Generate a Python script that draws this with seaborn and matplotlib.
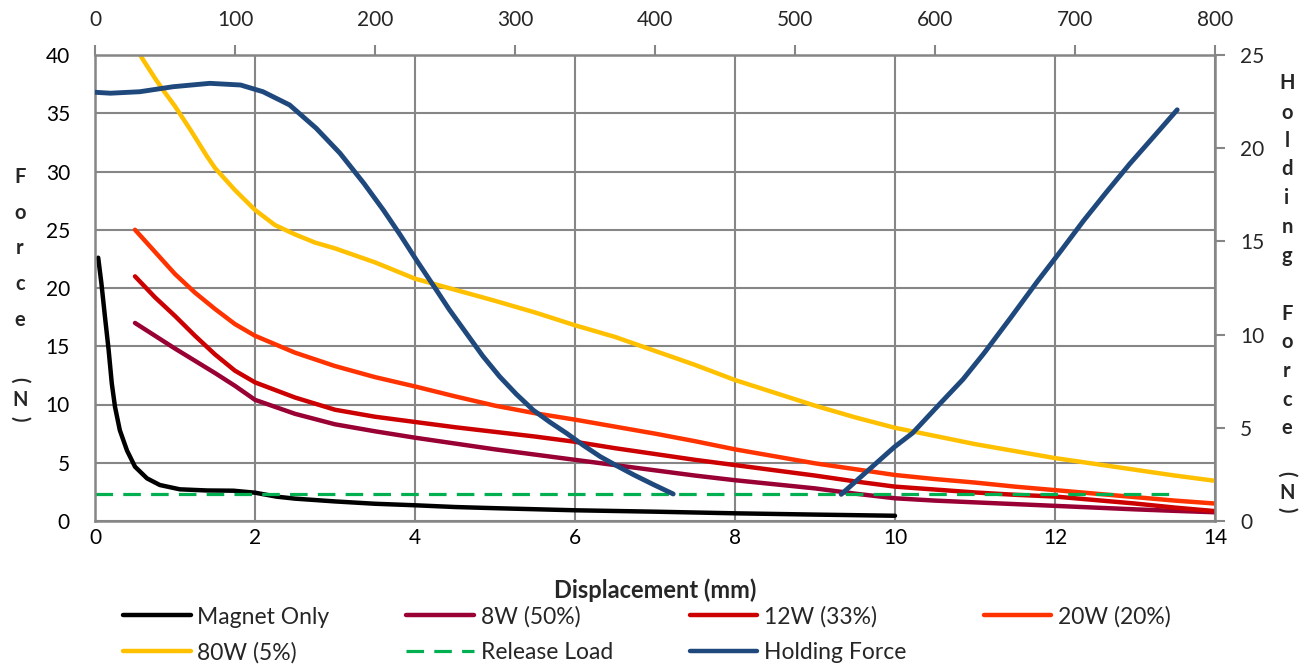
import numpy as np
import pandas as pd
import matplotlib
matplotlib.use("Agg")
import matplotlib.pyplot as plt
import seaborn as sns
from matplotlib.lines import Line2D

# displacement (mm) shared by the powered curves
disp = [0.5, 0.75, 1.0, 1.25, 1.5, 1.75, 2.0, 2.5, 3.0, 3.5, 4.0, 4.5, 5.0, 5.5, 6.0,
        6.5, 7.0, 7.5, 8.0, 8.5, 9.0, 9.5, 10.0, 10.5, 11.0, 11.5, 12.0, 12.5, 13.0,
        13.5, 14.0]
force_8w = [17.0, 15.9, 14.8, 13.75, 12.7, 11.6, 10.4, 9.2, 8.3, 7.7, 7.15, 6.65, 6.15,
            5.7, 5.25, 4.8, 4.35, 3.9, 3.5, 3.15, 2.8, 2.35, 1.95, 1.75, 1.6, 1.45, 1.3,
            1.15, 1.0, 0.87, 0.75]
force_12w = [21.0, 19.2, 17.6, 15.9, 14.3, 12.9, 11.9, 10.6, 9.55, 8.95, 8.5, 8.05, 7.65,
             7.25, 6.8, 6.25, 5.75, 5.25, 4.8, 4.35, 3.9, 3.4, 2.95, 2.7, 2.45, 2.25, 2.1,
             1.8, 1.5, 1.15, 0.85]
force_20w = [25.0, 23.1, 21.2, 19.6, 18.2, 16.9, 15.9, 14.45, 13.3, 12.35, 11.55, 10.7,
             9.9, 9.25, 8.7, 8.1, 7.5, 6.85, 6.15, 5.55, 4.95, 4.45, 3.95, 3.6, 3.3, 2.95,
             2.65, 2.35, 2.05, 1.75, 1.5]

disp_80w = [0.5, 0.6, 0.75, 0.85, 1.0, 1.2, 1.4, 1.5, 1.75, 2.0, 2.25, 2.5, 2.75, 3.0,
            3.5, 4.0, 4.5, 5.0, 5.5, 6.0, 6.5, 7.0, 7.5, 8.0, 8.5, 9.0, 9.5, 10.0, 10.5,
            11.0, 11.5, 12.0, 12.5, 13.0, 13.5, 14.0]
force_80w = [40.8, 39.6, 38.0, 37.0, 35.6, 33.5, 31.3, 30.3, 28.4, 26.7, 25.4, 24.6, 23.9,
             23.4, 22.2, 20.8, 19.85, 18.9, 17.9, 16.8, 15.8, 14.6, 13.4, 12.1, 11.0, 9.9,
             8.9, 8.0, 7.3, 6.6, 6.0, 5.4, 4.9, 4.4, 3.9, 3.45]

magnet_x = [0.04, 0.08, 0.125, 0.17, 0.21, 0.25, 0.31, 0.4, 0.5, 0.65, 0.81, 1.06, 1.4,
            1.73, 2.0, 2.27, 2.5, 3.0, 3.5, 4.0, 4.5, 5.0, 6.0, 7.0, 8.0, 9.0, 10.0]
magnet_y = [22.6, 20.4, 17.5, 14.7, 11.8, 9.8, 7.8, 6.05, 4.66, 3.66, 3.09, 2.72, 2.62,
            2.6, 2.43, 2.09, 1.92, 1.68, 1.48, 1.35, 1.2, 1.1, 0.92, 0.8, 0.66, 0.55, 0.45]

release_x = [0.0, 13.45]
release_y = [2.3, 2.3]

# holding force, on the secondary axes (top x 0-800, right y 0-25)
hold_x1 = [0, 11, 32, 56, 82, 104, 120, 139, 158, 175, 192, 206, 218, 230, 242, 253, 265,
           277, 289, 301, 313, 325, 337, 349, 361, 373, 385, 399, 413]
hold_y1 = [23.0, 22.95, 23.03, 23.3, 23.48, 23.39, 23.03, 22.32, 21.07, 19.73, 18.12,
           16.68, 15.35, 13.95, 12.6, 11.35, 10.1, 8.85, 7.75, 6.8, 5.95, 5.3, 4.7, 4.05,
           3.45, 2.95, 2.47, 1.95, 1.45]
hold_x2 = [533, 552, 571, 584, 604, 620, 635, 654, 673, 690, 706, 722, 739, 756, 773]
hold_y2 = [1.43, 2.7, 3.97, 4.72, 6.33, 7.6, 9.0, 10.9, 12.84, 14.5, 16.1, 17.6, 19.15,
           20.6, 22.06]

x_ticks = list(range(0, 15, 2))
y_ticks = list(range(0, 41, 5))
top_ticks = list(range(0, 801, 100))
right_ticks = list(range(0, 26, 5))

sns.set_theme(style="white")
plt.rcParams['font.family'] = ['Lato', 'DejaVu Sans']

W, H = 1302, 666
fig = plt.figure(figsize=(W / 100, H / 100), dpi=100)
ax = fig.add_axes([95 / W, 1 - 521 / H, (1215 - 95) / W, (521 - 55) / H])

grid_c = '#868686'
lw = 3.2
dash = [5.5, 3.2]

series = [
    ('Magnet Only', magnet_x, magnet_y, '#000000'),
    ('8W (50%)', disp, force_8w, '#990033'),
    ('12W (33%)', disp, force_12w, '#CC0000'),
    ('20W (20%)', disp, force_20w, '#FF3300'),
    ('80W (5%)', disp_80w, force_80w, '#FFC000'),
]
handles = {}
for name, xs, ys, c in series:
    df = pd.DataFrame({'x': xs, 'y': ys})
    sns.lineplot(data=df, x='x', y='y', ax=ax, color=c, lw=lw, legend=False,
                 solid_capstyle='round', solid_joinstyle='round')
    handles[name] = Line2D([], [], color=c, lw=lw, solid_capstyle='round')

df_rel = pd.DataFrame({'x': release_x, 'y': release_y})
sns.lineplot(data=df_rel, x='x', y='y', ax=ax, color='#00B050', lw=2.3, legend=False)
ax.lines[-1].set_dashes(dash)
handles['Release Load'] = Line2D([], [], color='#00B050', lw=2.3, dashes=dash)

ax.set_xlim(0, 14)
ax.set_ylim(0, 40)
ax.set_xticks(x_ticks)
ax.set_yticks(y_ticks)
ax.grid(True, color=grid_c, lw=1.5)
ax.set_axisbelow(True)
ax.tick_params(axis='both', length=0, labelsize=15, colors='black')
ax.tick_params(axis='y', pad=18)
ax.tick_params(axis='x', pad=5)
ax.set_xlabel('')
ax.set_ylabel('')
for s in ax.spines.values():
    s.set_color(grid_c)
    s.set_linewidth(1.8)

ax2 = ax.twinx()
ax3 = ax2.twiny()
for xs, ys in [(hold_x1, hold_y1), (hold_x2, hold_y2)]:
    df = pd.DataFrame({'x': xs, 'y': ys})
    sns.lineplot(data=df, x='x', y='y', ax=ax3, color='#1F497D', lw=3.5,
                 legend=False, solid_capstyle='round', solid_joinstyle='round')
handles['Holding Force'] = Line2D([], [], color='#1F497D', lw=lw, solid_capstyle='round')

ax2.set_ylim(0, 25)
ax2.set_yticks(right_ticks)
ax3.set_xlim(0, 800)
ax3.set_xticks(top_ticks)
ax3.set_ylim(0, 25)
ax2.tick_params(axis='y', length=7, width=1.5, color=grid_c, labelsize=15, pad=11)
ax3.tick_params(axis='x', length=7, width=1.5, color=grid_c, labelsize=15, pad=11)
ax3.set_xlabel('')
ax3.set_ylabel('')
ax2.set_ylabel('')
for a in (ax2, ax3):
    for s in a.spines.values():
        s.set_visible(False)

fig.text(655 / W, 1 - 590 / H, 'Displacement (mm)', ha='center', va='center',
         fontsize=17, fontweight='bold')

# stacked axis titles, one letter per line
def stacked(x_px, letters):
    for ch, y_px in letters:
        rot = -90 if ch in '()' else 0
        fig.text(x_px / W, 1 - y_px / H, ch, ha='center', va='center',
                 fontsize=14.5, fontweight='bold', rotation=rot)

stacked(20, [('F', 177), ('o', 213), ('r', 248), ('c', 284), ('e', 320),
             ('(', 380), ('N', 400), (')', 419)])
stacked(1287, [('H', 83), ('o', 113), ('l', 141), ('d', 169), ('i', 198), ('n', 227),
               ('g', 256), ('F', 314), ('o', 342), ('r', 371), ('c', 400), ('e', 428),
               ('(', 474), ('N', 493), (')', 510)])

order = ['Magnet Only', '80W (5%)', '8W (50%)', 'Release Load', '12W (33%)',
         'Holding Force', '20W (20%)']
fig.legend([handles[k] for k in order], order, ncol=4, loc='upper left',
           bbox_to_anchor=(123 / W, 1 - 606 / H), frameon=False, fontsize=16.5,
           handlelength=2.95, handletextpad=0.3, columnspacing=3.35,
           labelspacing=0.62, borderpad=0, borderaxespad=0)

fig.savefig('out.png', dpi=100)
